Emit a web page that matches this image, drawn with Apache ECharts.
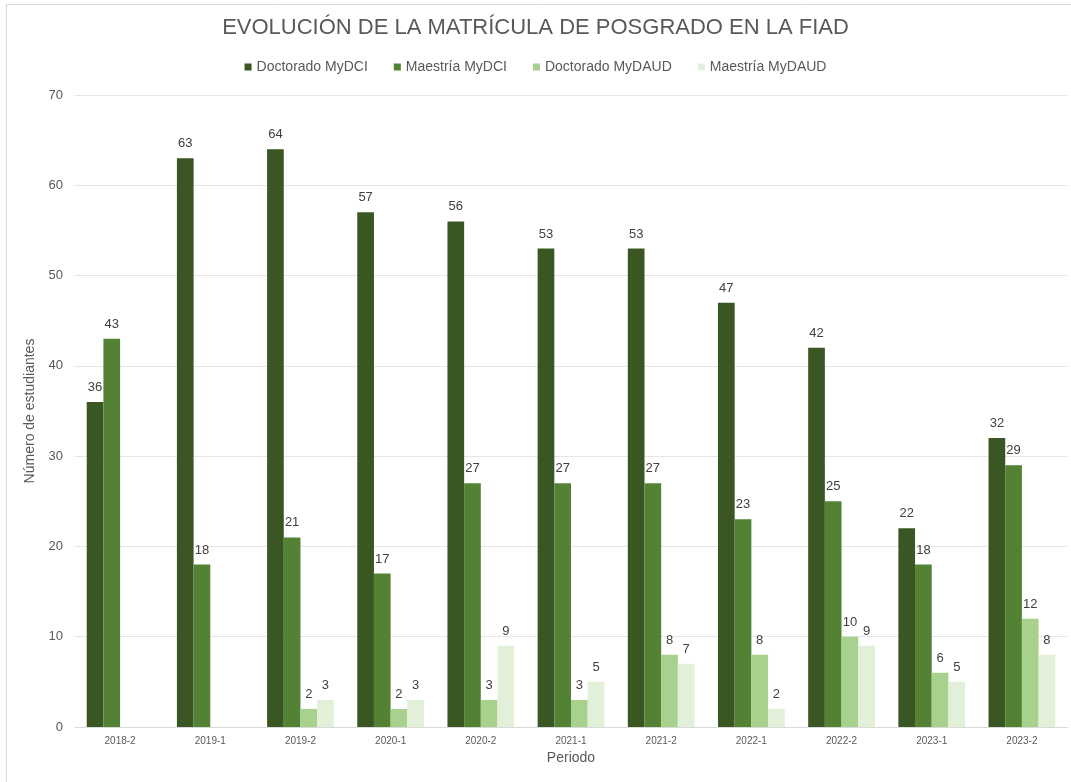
<!DOCTYPE html>
<html>
<head>
<meta charset="utf-8">
<script src="https://cdn.jsdelivr.net/npm/echarts@6/dist/echarts.min.js"></script>
<style>
html, body { margin: 0; padding: 0; background: #fff; }
#chart { width: 1071px; height: 782px; }
</style>
</head>
<body>
<div id="chart"></div>
<script>
// periodos
const periodos = ['2018-2', '2019-1', '2019-2', '2020-1', '2020-2', '2021-1', '2021-2', '2022-1', '2022-2', '2023-1', '2023-2']
const doctoradoMyDCI = [36, 63, 64, 57, 56, 53, 53, 47, 42, 22, 32]
const maestriaMyDCI = [43, 18, 21, 17, 27, 27, 27, 23, 25, 18, 29]
const doctoradoMyDAUD = [null, null, 2, 2, 3, 3, 8, 8, 10, 6, 12]
const maestriaMyDAUD = [null, null, 3, 3, 9, 5, 7, 2, 9, 5, 8]

const nombres = ['Doctorado MyDCI', 'Maestría MyDCI', 'Doctorado MyDAUD', 'Maestría MyDAUD']
const colores = ['#3a5723', '#548235', '#a9d18e', '#e2efd9']
const datos = [doctoradoMyDCI, maestriaMyDCI, doctoradoMyDAUD, maestriaMyDAUD]

const fuente = 'Arial, "Liberation Sans", sans-serif'

const myChart = echarts.init(document.getElementById('chart'))

const option = {
  animation: false,
  color: colores,
  title: {
    text: 'EVOLUCIÓN DE LA MATRÍCULA DE POSGRADO EN LA FIAD',
    left: 'center',
    top: 12,
    textStyle: { color: '#595959', fontSize: 22, fontWeight: 'normal', fontFamily: fuente }
  },
  legend: {
    data: nombres,
    top: 55,
    left: 'center',
    icon: 'rect',
    itemWidth: 7,
    itemHeight: 7,
    itemGap: 26,
    textStyle: { color: '#595959', fontSize: 14, fontFamily: fuente }
  },
  graphic: [{
    type: 'rect',
    shape: { x: 6.5, y: 4.5, width: 1080, height: 800 },
    style: { fill: 'none', stroke: '#d9d9d9', lineWidth: 1 },
    silent: true
  }],
  grid: { left: 75, right: 4, top: 95, bottom: 55 },
  xAxis: {
    type: 'category',
    data: periodos,
    name: 'Periodo',
    nameLocation: 'middle',
    nameGap: 24,
    nameTextStyle: { color: '#595959', fontSize: 14, fontFamily: fuente },
    axisTick: { show: false },
    axisLine: { lineStyle: { color: '#d9d9d9' } },
    axisLabel: { color: '#595959', fontSize: 10, margin: 9, fontFamily: fuente }
  },
  yAxis: {
    type: 'value',
    min: 0,
    max: 70,
    interval: 10,
    name: 'Número de estudiantes',
    nameLocation: 'middle',
    nameGap: 32,
    nameTextStyle: { color: '#595959', fontSize: 14, fontFamily: fuente },
    axisLine: { show: false },
    axisTick: { show: false },
    axisLabel: { color: '#595959', fontSize: 13, margin: 12, fontFamily: fuente },
    splitLine: { lineStyle: { color: '#e5e5e5' } }
  },
  series: datos.map((d, i) => ({
    name: nombres[i],
    type: 'bar',
    data: d,
    barGap: '0%',
    barCategoryGap: '26%',
    itemStyle: { color: colores[i] },
    label: {
      show: true,
      position: 'top',
      distance: 8,
      color: '#404040',
      fontSize: 13,
      fontFamily: fuente
    }
  }))
}

myChart.setOption(option)
</script>
</body>
</html>
